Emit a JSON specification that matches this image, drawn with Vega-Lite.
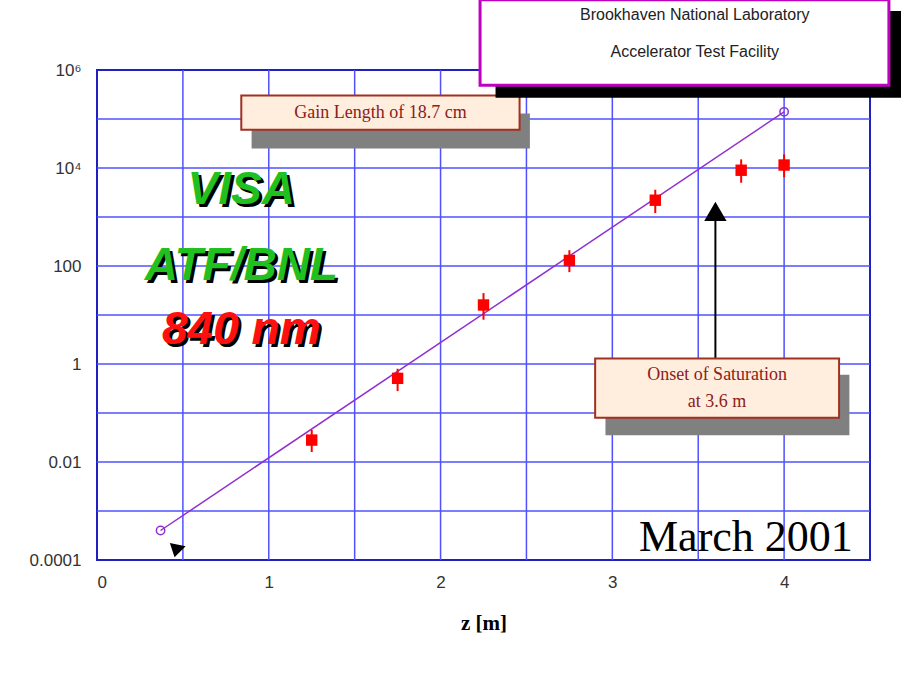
{
  "$schema": "https://vega.github.io/schema/vega-lite/v6.json",
  "width": 773,
  "height": 490,
  "autosize": {"type": "none"},
  "padding": {"left": 97, "top": 70, "right": 31, "bottom": 122},
  "background": "white",
  "config": {"view": {"stroke": "#2020c0", "strokeWidth": 2}},
  "datasets": {
    "points": [
      {"z": 1.25, "p": 0.028, "lo": 0.016, "hi": 0.045},
      {"z": 1.75, "p": 0.51, "lo": 0.28, "hi": 0.8},
      {"z": 2.25, "p": 16, "lo": 8, "hi": 28},
      {"z": 2.75, "p": 130, "lo": 75, "hi": 210},
      {"z": 3.25, "p": 2200, "lo": 1200, "hi": 3600},
      {"z": 3.75, "p": 9000, "lo": 5000, "hi": 15000},
      {"z": 4.0, "p": 11500, "lo": 6500, "hi": 19000}
    ],
    "fit": [
      {"z": 0.37, "p": 0.0004},
      {"z": 4.0, "p": 140000}
    ],
    "boxes": [
      {"x": 0.84, "x2": 2.46, "y": 60000, "y2": 300000, "sx": 0.9, "sx2": 2.52, "sy": 25000, "sy2": 130000},
      {"x": 2.9, "x2": 4.32, "y": 0.08, "y2": 1.3, "sx": 2.96, "sx2": 4.38, "sy": 0.035, "sy2": 0.6}
    ],
    "logo": [
      {"x": 2.23, "x2": 4.61, "y": 490000, "y2": 27000000, "sx": 2.32, "sx2": 4.7, "sy": 270000, "sy2": 16000000}
    ],
    "serif": [
      {"z": 1.65, "p": 130000, "t": "Gain Length of 18.7 cm"},
      {"z": 3.61, "p": 0.6, "t": "Onset of Saturation"},
      {"z": 3.61, "p": 0.17, "t": "at 3.6 m"}
    ],
    "logotext": [
      {"z": 3.48, "p": 13000000, "t": "Brookhaven National Laboratory"},
      {"z": 3.48, "p": 2300000, "t": "Accelerator Test Facility"}
    ],
    "march": [
      {"z": 4.4, "p": 0.00028, "t": "March 2001"}
    ],
    "big": [
      {"z": 0.84, "p": 3500, "t": "VISA", "color": "#20c020"},
      {"z": 0.84, "p": 100, "t": "ATF/BNL", "color": "#20c020"},
      {"z": 0.84, "p": 5, "t": "840 nm", "color": "#ff1010"}
    ],
    "arrow": [
      {"z": 3.6, "p": 0.95, "p2": 1500}
    ],
    "headUp": [
      {"z": 3.6, "p": 1300}
    ],
    "headDiag": [
      {"z": 0.47, "p": 0.000165}
    ]
  },
  "encoding": {
    "x": {"field": "z", "type": "quantitative", "scale": {"domain": [0, 4.5], "nice": false},
      "axis": {"values": [0, 1, 2, 3, 4], "title": "z [m]", "titleFont": "Liberation Serif", "titleFontSize": 21, "titleFontWeight": "bold", "titlePadding": 22, "labelFont": "Liberation Sans", "labelFontSize": 17, "labelColor": "#333", "grid": false, "domain": false, "ticks": false, "labelPadding": 14}},
    "y": {"field": "p", "type": "quantitative", "scale": {"type": "log", "domain": [0.0001, 1000000], "nice": false},
      "axis": {"values": [0.0001, 0.01, 1, 100, 10000, 1000000], "labelExpr": "datum.value == 10000 ? '10⁴' : datum.value == 1000000 ? '10⁶' : datum.value == 100 ? '100' : datum.value == 1 ? '1' : datum.value == 0.01 ? '0.01' : '0.0001'", "title": null, "labelFont": "Liberation Sans", "labelFontSize": 17, "labelColor": "#333", "grid": false, "domain": false, "ticks": false, "labelPadding": 16}}
  },
  "layer": [
    {
      "data": {"values": [{"z": 0.5}, {"z": 1}, {"z": 1.5}, {"z": 2}, {"z": 2.5}, {"z": 3}, {"z": 3.5}, {"z": 4}]},
      "mark": {"type": "rule", "color": "#5050ff", "strokeWidth": 1.5},
      "encoding": {"y": null}
    },
    {
      "data": {"values": [{"p": 0.001}, {"p": 0.01}, {"p": 0.1}, {"p": 1}, {"p": 10}, {"p": 100}, {"p": 1000}, {"p": 10000}, {"p": 100000}]},
      "mark": {"type": "rule", "color": "#5050ff", "strokeWidth": 1.5},
      "encoding": {"x": null}
    },
    {
      "data": {"name": "arrow"},
      "mark": {"type": "rule", "color": "black", "strokeWidth": 2},
      "encoding": {"y2": {"field": "p2"}}
    },
    {
      "data": {"name": "headUp"},
      "mark": {"type": "point", "shape": "triangle-up", "filled": true, "color": "black", "size": 500, "opacity": 1}
    },
    {
      "data": {"name": "headDiag"},
      "mark": {"type": "point", "shape": "M-1,-0.8 L1,-0.4 L-0.4,1 Z", "filled": true, "color": "black", "size": 250, "opacity": 1}
    },
    {
      "data": {"name": "fit"},
      "mark": {"type": "line", "color": "#9030d0", "strokeWidth": 1.5, "point": {"filled": false, "shape": "circle", "size": 70, "color": "#9030d0", "strokeWidth": 1.5}},
      "encoding": {}
    },
    {
      "data": {"name": "points"},
      "mark": {"type": "rule", "color": "#ff0000", "strokeWidth": 2},
      "encoding": {"y": {"field": "lo"}, "y2": {"field": "hi"}}
    },
    {
      "data": {"name": "points"},
      "mark": {"type": "square", "color": "#ff0000", "size": 130, "opacity": 1}
    },
    {
      "data": {"name": "boxes"},
      "mark": {"type": "rect", "color": "#808080"},
      "encoding": {"x": {"field": "sx"}, "x2": {"field": "sx2"}, "y": {"field": "sy"}, "y2": {"field": "sy2"}}
    },
    {
      "data": {"name": "boxes"},
      "mark": {"type": "rect", "fill": "#ffeedd", "stroke": "#a03020", "strokeWidth": 2},
      "encoding": {"x": {"field": "x"}, "x2": {"field": "x2"}, "y": {"field": "y"}, "y2": {"field": "y2"}}
    },
    {
      "data": {"name": "logo"},
      "mark": {"type": "rect", "color": "black", "clip": false},
      "encoding": {"x": {"field": "sx"}, "x2": {"field": "sx2"}, "y": {"field": "sy"}, "y2": {"field": "sy2"}}
    },
    {
      "data": {"name": "logo"},
      "mark": {"type": "rect", "fill": "white", "stroke": "#c000c0", "strokeWidth": 3, "clip": false},
      "encoding": {"x": {"field": "x"}, "x2": {"field": "x2"}, "y": {"field": "y"}, "y2": {"field": "y2"}}
    },
    {
      "data": {"name": "serif"},
      "mark": {"type": "text", "font": "Liberation Serif", "fontSize": 18, "color": "#8b2020"},
      "encoding": {"text": {"field": "t"}}
    },
    {
      "data": {"name": "logotext"},
      "mark": {"type": "text", "font": "Liberation Sans", "fontSize": 16, "color": "#222", "clip": false},
      "encoding": {"text": {"field": "t"}}
    },
    {
      "data": {"name": "march"},
      "mark": {"type": "text", "font": "Liberation Serif", "fontSize": 44, "color": "black", "align": "right"},
      "encoding": {"text": {"field": "t"}}
    },
    {
      "data": {"name": "big"},
      "mark": {"type": "text", "font": "Liberation Sans", "fontSize": 46, "fontWeight": "bold", "fontStyle": "italic", "color": "black", "dx": 3, "dy": 3},
      "encoding": {"text": {"field": "t"}}
    },
    {
      "data": {"name": "big"},
      "mark": {"type": "text", "font": "Liberation Sans", "fontSize": 46, "fontWeight": "bold", "fontStyle": "italic"},
      "encoding": {"text": {"field": "t"}, "color": {"field": "color", "type": "nominal", "scale": null}}
    }
  ]
}
